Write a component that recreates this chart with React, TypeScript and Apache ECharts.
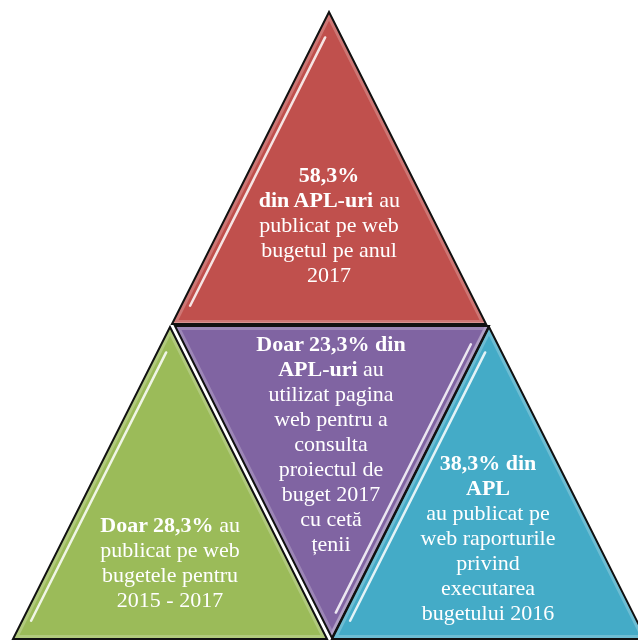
import React, { useEffect, useRef } from "react";
import * as echarts from "echarts";

// Texts of each triangle (rich-text lines)
const redLines = ["{b|58,3%}", "{b|din APL-uri} {n|au}", "{n|publicat pe web}", "{n|bugetul pe anul}", "{n|2017}"];
const purpleLines = [
  "{b|Doar 23,3% din}",
  "{b|APL-uri} {n|au}",
  "{n|utilizat pagina}",
  "{n|web pentru a}",
  "{n|consulta}",
  "{n|proiectul de}",
  "{n|buget 2017}",
  "{n|cu cetă}",
  "{n|țenii}",
];
const greenLines = ["{b|Doar 28,3%} {n|au}", "{n|publicat pe web}", "{n|bugetele pentru}", "{n|2015 - 2017}"];
const blueLines = [
  "{b|38,3% din}",
  "{b|APL}",
  "{n|au publicat pe}",
  "{n|web raporturile}",
  "{n|privind}",
  "{n|executarea}",
  "{n|bugetului 2016}",
];
const colors = ["#C0504D", "#8064A2", "#9BBB59", "#44ABC7"];

export default function App() {
  const ref = useRef<HTMLDivElement>(null);
  useEffect(() => {
    if (!ref.current) return;
    const chart = echarts.init(ref.current, null, { renderer: "svg" });
    const H = 312;
    const HW = 157;
    const tri = (ax: number, ay: number, up: boolean) =>
      up
        ? [
            [ax, ay],
            [ax + HW, ay + H],
            [ax - HW, ay + H],
          ]
        : [
            [ax - HW, ay - H],
            [ax + HW, ay - H],
            [ax, ay],
          ];
    const shapes = [
      { pts: tri(329, 12, true), color: colors[0] },
      { pts: tri(332, 638, false), color: colors[1] },
      { pts: tri(170, 327, true), color: colors[2] },
      { pts: tri(489, 327, true), color: colors[3] },
    ];
    const els: any[] = [];
    shapes.forEach((s) => {
      els.push({
        type: "polygon",
        shape: { points: s.pts },
        style: { fill: s.color, stroke: "rgba(255,255,255,0.22)", lineWidth: 8, lineJoin: "miter" },
        z: 1,
      });
      els.push({
        type: "polygon",
        shape: { points: s.pts },
        style: { fill: "none", stroke: "#111", lineWidth: 2, lineJoin: "miter" },
        z: 3,
      });
    });
    // highlights along an edge
    const hl = (p1: number[], p2: number[], off: number) => {
      const dx = p2[0] - p1[0];
      const dy = p2[1] - p1[1];
      const len = Math.hypot(dx, dy);
      const nx = (-dy / len) * off;
      const ny = (dx / len) * off;
      const t0 = 0.07, t1 = 0.93;
      return {
        type: "line",
        shape: {
          x1: p1[0] + dx * t0 + nx,
          y1: p1[1] + dy * t0 + ny,
          x2: p1[0] + dx * t1 + nx,
          y2: p1[1] + dy * t1 + ny,
        },
        style: { stroke: "rgba(255,255,255,0.85)", lineWidth: 2.5, lineCap: "round" },
        z: 2,
      };
    };
    const r = shapes[0].pts, p = shapes[1].pts, g = shapes[2].pts, b = shapes[3].pts;
    els.push(hl(r[0], r[2], -8));
    els.push(hl(g[0], g[2], -8));
    els.push(hl(b[0], b[2], -8));
    els.push(hl(p[1], p[2], 8));

    const base = { fill: "#fff", fontFamily: "Liberation Serif", fontSize: 22, lineHeight: 25 };
    const txt = (lines: string[], x: number, y: number) => ({
      type: "text",
      x,
      y,
      z: 5,
      style: {
        text: lines.join("\n"),
        align: "center",
        verticalAlign: "top",
        fill: "#fff",
        fontFamily: "Liberation Serif",
        fontSize: 22,
        lineHeight: 25,
        rich: { b: { ...base, fontWeight: "bold" }, n: { ...base } },
      },
    });
    els.push(txt(redLines, 329, 162));
    els.push(txt(purpleLines, 331, 331));
    els.push(txt(greenLines, 170, 512));
    els.push(txt(blueLines, 488, 450));

    chart.setOption({ animation: false, graphic: { elements: els } });
    return () => chart.dispose();
  }, []);
  return <div ref={ref} style={{ position: "fixed", left: 0, top: 0, width: 638, height: 640 }} />;
}
